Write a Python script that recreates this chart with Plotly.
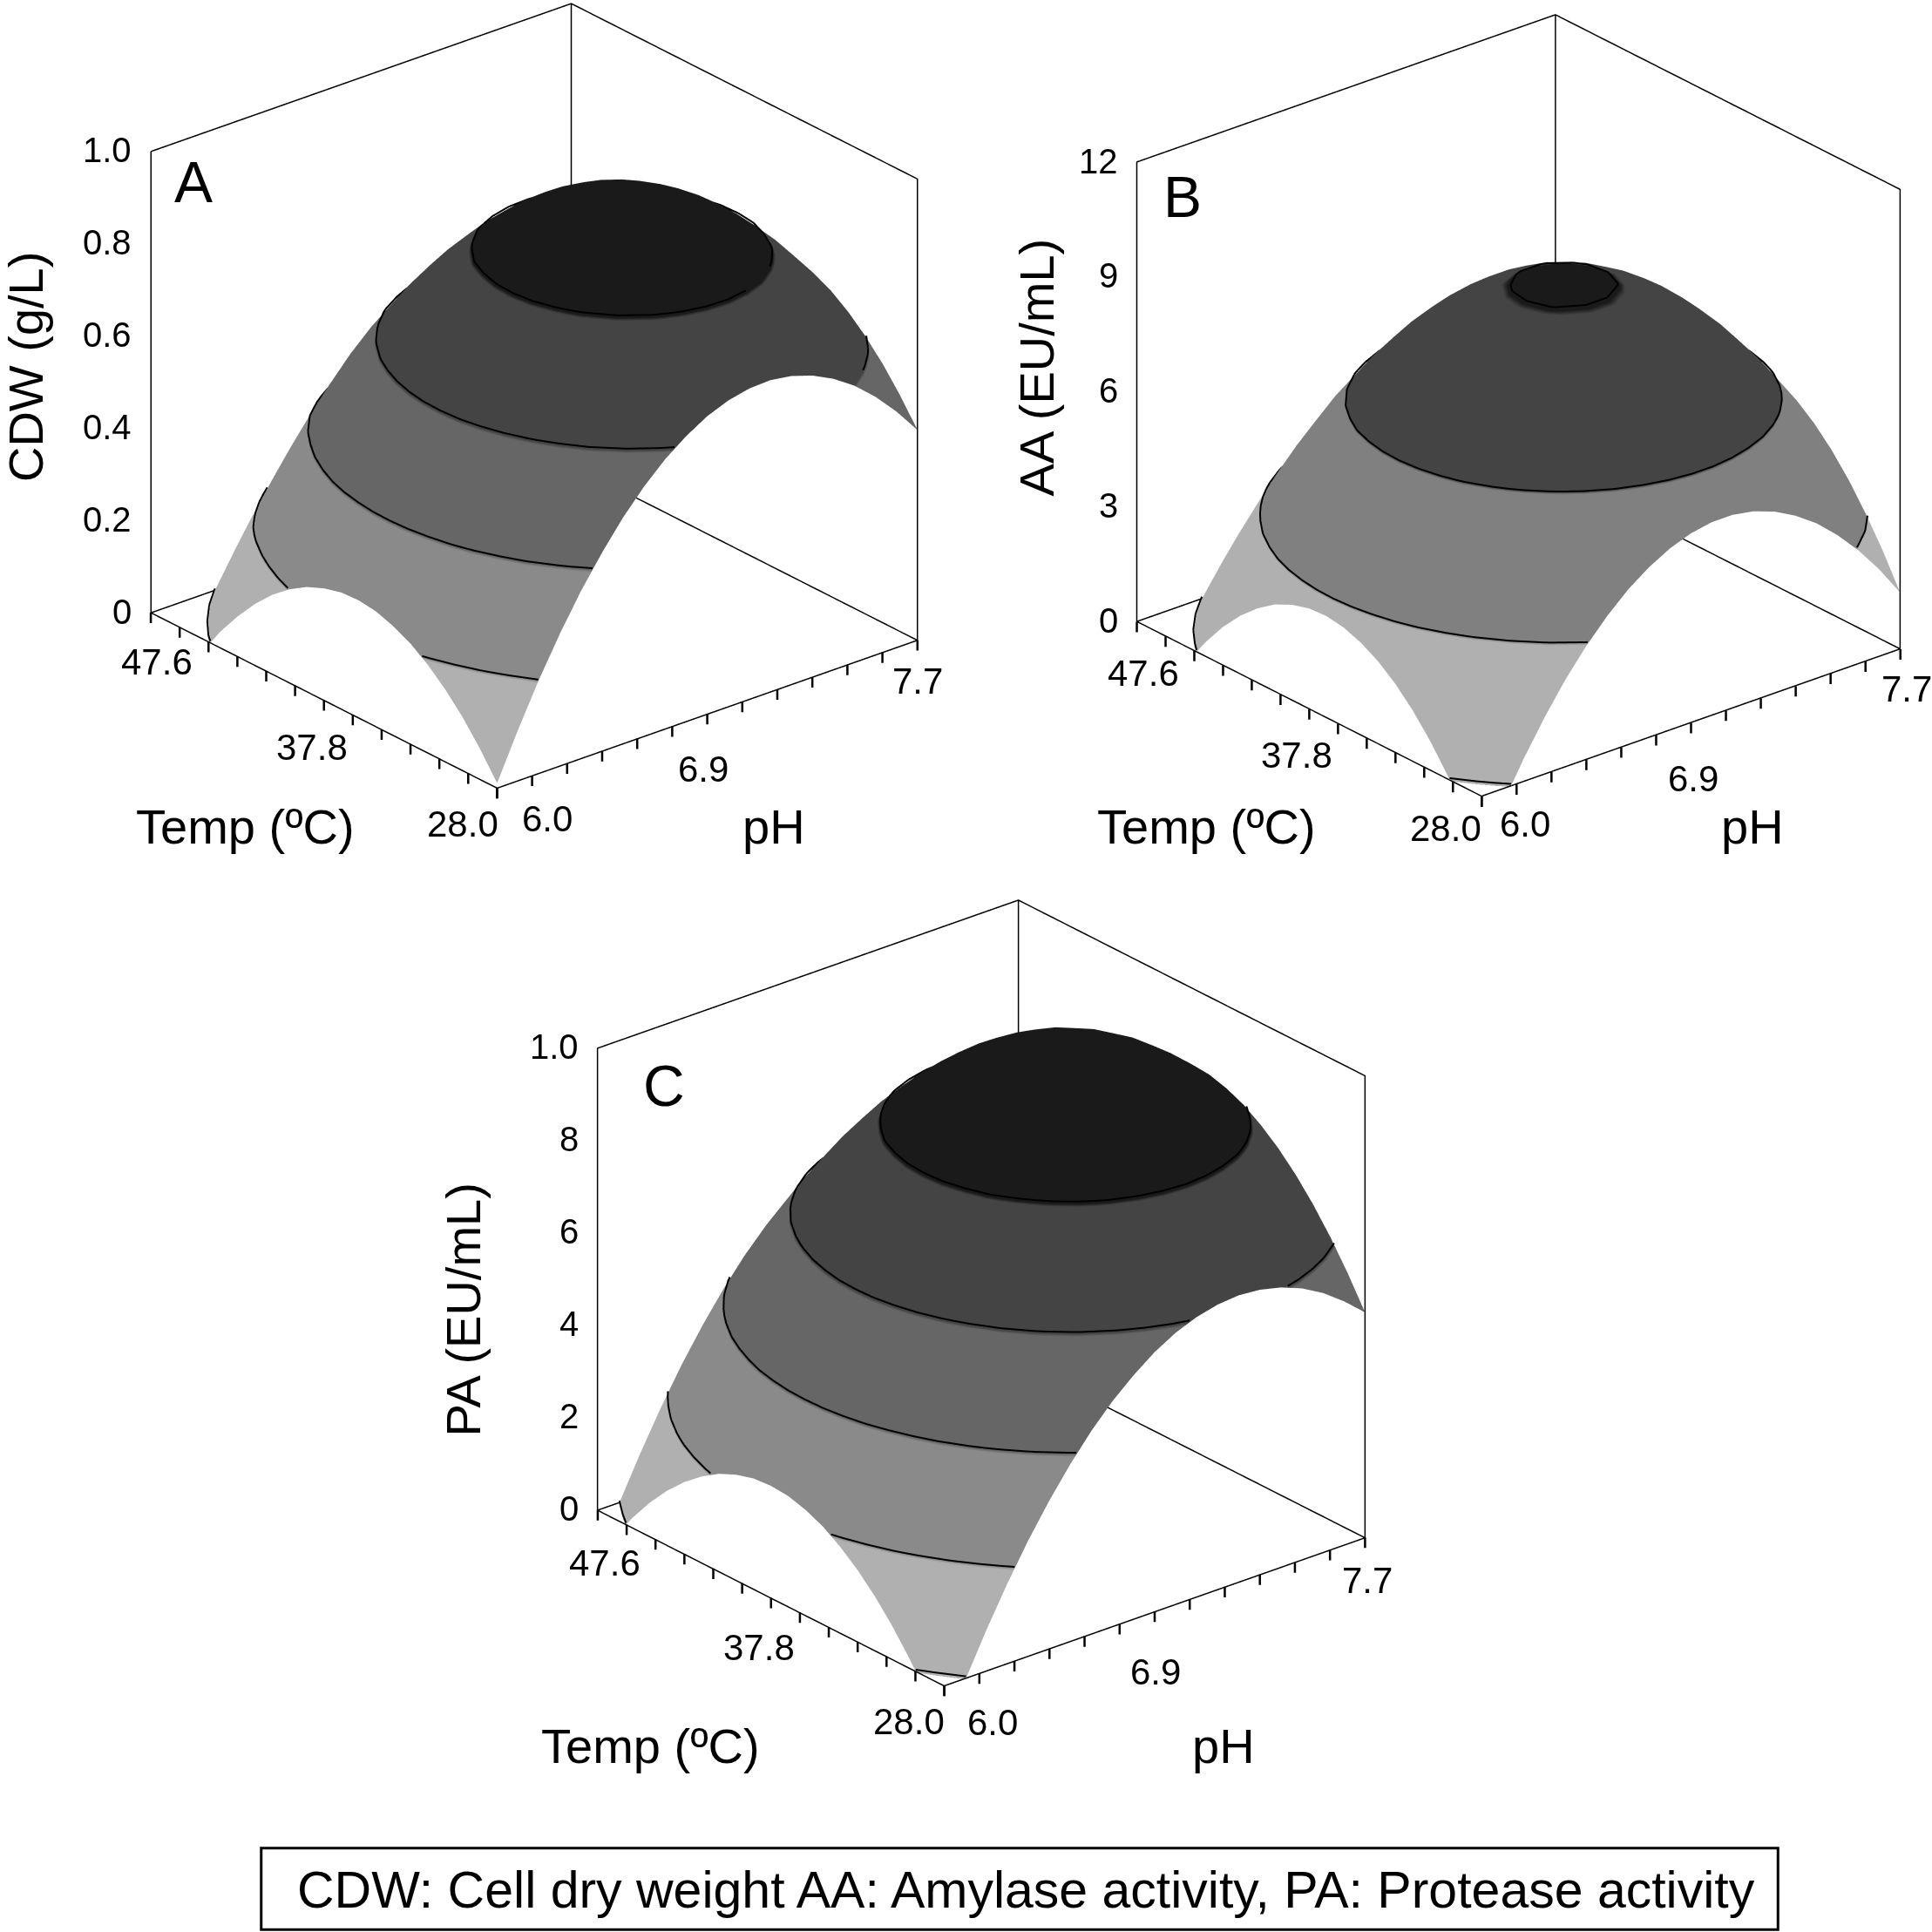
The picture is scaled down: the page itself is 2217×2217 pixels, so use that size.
import plotly.graph_objects as go

SIZE = 2217
K = SIZE / 1568

temp = [28.0,28.98,29.96,30.94,31.92,32.9,33.88,34.86,35.84,36.82,37.8,38.78,39.76,40.74,41.72,42.7,43.68,44.66,45.64,46.62,47.6]
ph = [6.0,6.085,6.17,6.255,6.34,6.425,6.51,6.595,6.68,6.765,6.85,6.935,7.02,7.105,7.19,7.275,7.36,7.445,7.53,7.615,7.7]

cdw = [
 [.011,.111,.204,.288,.364,.431,.491,.542,.585,.619,.646,.664,.674,.676,.669,.654,.631,.600,.560,.512,.456],
 [.067,.167,.260,.344,.420,.487,.547,.598,.641,.675,.702,.720,.730,.732,.725,.710,.687,.656,.616,.568,.512],
 [.116,.216,.309,.393,.469,.536,.596,.647,.690,.724,.751,.769,.779,.781,.774,.759,.736,.705,.665,.617,.561],
 [.157,.257,.350,.434,.510,.577,.637,.688,.731,.765,.792,.810,.820,.822,.815,.800,.777,.746,.706,.658,.602],
 [.191,.291,.384,.468,.544,.611,.671,.722,.765,.799,.826,.844,.854,.856,.849,.834,.811,.780,.740,.692,.636],
 [.218,.318,.411,.495,.571,.638,.698,.749,.792,.826,.853,.871,.881,.883,.876,.861,.838,.807,.767,.719,.663],
 [.237,.337,.430,.514,.590,.657,.717,.768,.811,.845,.872,.890,.900,.902,.895,.880,.857,.826,.786,.738,.682],
 [.250,.350,.443,.527,.603,.670,.730,.781,.824,.858,.885,.903,.913,.915,.908,.893,.870,.839,.799,.751,.695],
 [.255,.355,.448,.532,.608,.675,.735,.786,.829,.863,.890,.908,.918,.920,.913,.898,.875,.844,.804,.756,.700],
 [.253,.353,.446,.530,.606,.673,.733,.784,.827,.861,.888,.906,.916,.918,.911,.896,.873,.842,.802,.754,.698],
 [.243,.343,.436,.520,.596,.663,.723,.774,.817,.851,.878,.896,.906,.908,.901,.886,.863,.832,.792,.744,.688],
 [.227,.327,.420,.504,.580,.647,.707,.758,.801,.835,.862,.880,.890,.892,.885,.870,.847,.816,.776,.728,.672],
 [.203,.303,.396,.480,.556,.623,.683,.734,.777,.811,.838,.856,.866,.868,.861,.846,.823,.792,.752,.704,.648],
 [.172,.272,.365,.449,.525,.592,.652,.703,.746,.780,.807,.825,.835,.837,.830,.815,.792,.761,.721,.673,.617],
 [.133,.233,.326,.410,.486,.553,.613,.664,.707,.741,.768,.786,.796,.798,.791,.776,.753,.722,.682,.634,.578],
 [.087,.187,.280,.364,.440,.507,.567,.618,.661,.695,.722,.740,.750,.752,.745,.730,.707,.676,.636,.588,.532],
 [.035,.135,.228,.312,.388,.455,.515,.566,.609,.643,.670,.688,.698,.700,.693,.678,.655,.624,.584,.536,.480],
 [-.026,.074,.167,.251,.327,.394,.454,.505,.548,.582,.609,.627,.637,.639,.632,.617,.594,.563,.523,.475,.419],
 [-.103,-.003,.090,.174,.250,.317,.377,.428,.471,.505,.532,.550,.560,.562,.555,.540,.517,.486,.446,.398,.342],
 [-.188,-.088,.005,.089,.165,.232,.292,.343,.386,.420,.447,.465,.475,.477,.470,.455,.432,.401,.361,.313,.257],
 [-.280,-.180,-.087,-.003,.073,.140,.200,.251,.294,.328,.355,.373,.383,.385,.378,.363,.340,.309,.269,.221,.165],
]
aa = [
 [-1.50,-.41,.58,1.47,2.27,2.96,3.55,4.05,4.44,4.74,4.94,5.04,5.04,4.94,4.74,4.44,4.05,3.55,2.96,2.27,1.47],
 [-.64,.45,1.44,2.33,3.13,3.82,4.41,4.91,5.30,5.60,5.80,5.90,5.90,5.80,5.60,5.30,4.91,4.41,3.82,3.13,2.33],
 [.11,1.20,2.19,3.08,3.88,4.57,5.16,5.66,6.05,6.35,6.55,6.65,6.65,6.55,6.35,6.05,5.66,5.16,4.57,3.88,3.08],
 [.77,1.86,2.85,3.74,4.54,5.23,5.82,6.32,6.71,7.01,7.21,7.31,7.31,7.21,7.01,6.71,6.32,5.82,5.23,4.54,3.74],
 [1.33,2.42,3.41,4.30,5.10,5.79,6.38,6.88,7.27,7.57,7.77,7.87,7.87,7.77,7.57,7.27,6.88,6.38,5.79,5.10,4.30],
 [1.79,2.88,3.87,4.76,5.56,6.25,6.84,7.34,7.73,8.03,8.23,8.33,8.33,8.23,8.03,7.73,7.34,6.84,6.25,5.56,4.76],
 [2.15,3.24,4.23,5.12,5.92,6.61,7.20,7.70,8.09,8.39,8.59,8.69,8.69,8.59,8.39,8.09,7.70,7.20,6.61,5.92,5.12],
 [2.41,3.50,4.49,5.38,6.18,6.87,7.46,7.96,8.35,8.65,8.85,8.95,8.95,8.85,8.65,8.35,7.96,7.46,6.87,6.18,5.38],
 [2.58,3.67,4.66,5.55,6.35,7.04,7.63,8.13,8.52,8.82,9.02,9.12,9.12,9.02,8.82,8.52,8.13,7.63,7.04,6.35,5.55],
 [2.65,3.74,4.73,5.62,6.42,7.11,7.70,8.20,8.59,8.89,9.09,9.19,9.19,9.09,8.89,8.59,8.20,7.70,7.11,6.42,5.62],
 [2.62,3.71,4.70,5.59,6.39,7.08,7.67,8.17,8.56,8.86,9.06,9.16,9.16,9.06,8.86,8.56,8.17,7.67,7.08,6.39,5.59],
 [2.49,3.58,4.57,5.46,6.26,6.95,7.54,8.04,8.43,8.73,8.93,9.03,9.03,8.93,8.73,8.43,8.04,7.54,6.95,6.26,5.46],
 [2.27,3.36,4.35,5.24,6.04,6.73,7.32,7.82,8.21,8.51,8.71,8.81,8.81,8.71,8.51,8.21,7.82,7.32,6.73,6.04,5.24],
 [1.94,3.03,4.02,4.91,5.71,6.40,6.99,7.49,7.88,8.18,8.38,8.48,8.48,8.38,8.18,7.88,7.49,6.99,6.40,5.71,4.91],
 [1.52,2.61,3.60,4.49,5.29,5.98,6.57,7.07,7.46,7.76,7.96,8.06,8.06,7.96,7.76,7.46,7.07,6.57,5.98,5.29,4.49],
 [1.00,2.09,3.08,3.97,4.77,5.46,6.05,6.55,6.94,7.24,7.44,7.54,7.54,7.44,7.24,6.94,6.55,6.05,5.46,4.77,3.97],
 [.38,1.47,2.46,3.35,4.15,4.84,5.43,5.93,6.32,6.62,6.82,6.92,6.92,6.82,6.62,6.32,5.93,5.43,4.84,4.15,3.35],
 [-.33,.76,1.75,2.64,3.44,4.13,4.72,5.22,5.61,5.91,6.11,6.21,6.21,6.11,5.91,5.61,5.22,4.72,4.13,3.44,2.64],
 [-1.14,-.05,.94,1.83,2.63,3.32,3.91,4.41,4.80,5.10,5.30,5.40,5.40,5.30,5.10,4.80,4.41,3.91,3.32,2.63,1.83],
 [-2.06,-.97,.02,.91,1.71,2.40,2.99,3.49,3.88,4.18,4.38,4.48,4.48,4.38,4.18,3.88,3.49,2.99,2.40,1.71,.91],
 [-3.06,-1.97,-.98,-.09,.71,1.40,1.99,2.49,2.88,3.18,3.38,3.48,3.48,3.38,3.18,2.88,2.49,1.99,1.40,.71,-.09],
]
pa = [
 [-1.04,-.04,.88,1.73,2.51,3.21,3.84,4.40,4.88,5.28,5.62,5.88,6.06,6.17,6.21,6.17,6.06,5.88,5.62,5.28,4.88],
 [-.38,.62,1.54,2.39,3.17,3.87,4.50,5.06,5.54,5.94,6.28,6.54,6.72,6.83,6.87,6.83,6.72,6.54,6.28,5.94,5.54],
 [.21,1.21,2.13,2.98,3.76,4.46,5.09,5.65,6.13,6.53,6.87,7.13,7.31,7.42,7.46,7.42,7.31,7.13,6.87,6.53,6.13],
 [.73,1.73,2.65,3.50,4.28,4.98,5.61,6.17,6.65,7.05,7.39,7.65,7.83,7.94,7.98,7.94,7.83,7.65,7.39,7.05,6.65],
 [1.18,2.18,3.10,3.95,4.73,5.43,6.06,6.62,7.10,7.50,7.84,8.10,8.28,8.39,8.43,8.39,8.28,8.10,7.84,7.50,7.10],
 [1.56,2.56,3.48,4.33,5.11,5.81,6.44,7.00,7.48,7.88,8.22,8.48,8.66,8.77,8.81,8.77,8.66,8.48,8.22,7.88,7.48],
 [1.87,2.87,3.79,4.64,5.42,6.12,6.75,7.31,7.79,8.19,8.53,8.79,8.97,9.08,9.12,9.08,8.97,8.79,8.53,8.19,7.79],
 [2.12,3.12,4.04,4.89,5.67,6.37,7.00,7.56,8.04,8.44,8.78,9.04,9.22,9.33,9.37,9.33,9.22,9.04,8.78,8.44,8.04],
 [2.29,3.29,4.21,5.06,5.84,6.54,7.17,7.73,8.21,8.61,8.95,9.21,9.39,9.50,9.54,9.50,9.39,9.21,8.95,8.61,8.21],
 [2.40,3.40,4.32,5.17,5.95,6.65,7.28,7.84,8.32,8.72,9.06,9.32,9.50,9.61,9.65,9.61,9.50,9.32,9.06,8.72,8.32],
 [2.43,3.43,4.35,5.20,5.98,6.68,7.31,7.87,8.35,8.75,9.09,9.35,9.53,9.64,9.68,9.64,9.53,9.35,9.09,8.75,8.35],
 [2.40,3.40,4.32,5.17,5.95,6.65,7.28,7.84,8.32,8.72,9.06,9.32,9.50,9.61,9.65,9.61,9.50,9.32,9.06,8.72,8.32],
 [2.29,3.29,4.21,5.06,5.84,6.54,7.17,7.73,8.21,8.61,8.95,9.21,9.39,9.50,9.54,9.50,9.39,9.21,8.95,8.61,8.21],
 [2.12,3.12,4.04,4.89,5.67,6.37,7.00,7.56,8.04,8.44,8.78,9.04,9.22,9.33,9.37,9.33,9.22,9.04,8.78,8.44,8.04],
 [1.87,2.87,3.79,4.64,5.42,6.12,6.75,7.31,7.79,8.19,8.53,8.79,8.97,9.08,9.12,9.08,8.97,8.79,8.53,8.19,7.79],
 [1.56,2.56,3.48,4.33,5.11,5.81,6.44,7.00,7.48,7.88,8.22,8.48,8.66,8.77,8.81,8.77,8.66,8.48,8.22,7.88,7.48],
 [1.18,2.18,3.10,3.95,4.73,5.43,6.06,6.62,7.10,7.50,7.84,8.10,8.28,8.39,8.43,8.39,8.28,8.10,7.84,7.50,7.10],
 [.73,1.73,2.65,3.50,4.28,4.98,5.61,6.17,6.65,7.05,7.39,7.65,7.83,7.94,7.98,7.94,7.83,7.65,7.39,7.05,6.65],
 [.21,1.21,2.13,2.98,3.76,4.46,5.09,5.65,6.13,6.53,6.87,7.13,7.31,7.42,7.46,7.42,7.31,7.13,6.87,6.53,6.13],
 [-.38,.62,1.54,2.39,3.17,3.87,4.50,5.06,5.54,5.94,6.28,6.54,6.72,6.83,6.87,6.83,6.72,6.54,6.28,5.94,5.54],
 [-1.04,-.04,.88,1.73,2.51,3.21,3.84,4.40,4.88,5.28,5.62,5.88,6.06,6.17,6.21,6.17,6.06,5.88,5.62,5.28,4.88],
]

temp_ticks = [28.0+i*19.6/12 for i in range(13)]
ph_ticks = [6.0+i*1.7/12 for i in range(13)]
temp_labels = {28.0:"28.0", 37.8:"37.8", 47.6:"47.6"}
ph_labels = {6.0:"6.0", 6.85:"6.9", 7.7:"7.7"}

GRAYS = ["#b0b0b0", "#8a8a8a", "#666666", "#444444", "#1a1a1a"]

panels = [
 dict(name="scene", z=cdw, zmax=1.0, levels=[.2,.4,.6,.8], colors=GRAYS,
      zticks=[0,.2,.4,.6,.8,1.0], ztext=["0","0.2","0.4","0.6","0.8","1.0"],
      cx=433.5, cy=321, hw=433, hh=321, scale=1.379,
      tshift=[(-28,29),(-10,38.5),(5,40)], pshift=[(41,25),(-3.5,45),(0,33)]),
 dict(name="scene2", z=aa, zmax=12, levels=[3,6,9], colors=[GRAYS[0],"#808080","#444444","#1a1a1a"],
      zticks=[0,3,6,9,12], ztext=["0","3","6","9","12"],
      cx=1232.5, cy=329, hw=335, hh=329, scale=1.341,
      tshift=[(-29,26),(-10,37),(5,42)], pshift=[(35,22),(2,45),(5,32)]),
 dict(name="scene3", z=pa, zmax=10, levels=[2,4,6,8], colors=GRAYS,
      zticks=[0,2,4,6,8,10], ztext=["0","2","4","6","8","1.0"],
      cx=796.5, cy=1049, hw=350, hh=325, scale=1.3645,
      tshift=[(-29,29),(-10,40),(6,43)], pshift=[(39,30),(1,49),(2,35)]),
]

def band_scale(levels, zmax, colors):
    edges = [0] + [l/zmax for l in levels] + [1]
    out = []
    for i, c in enumerate(colors):
        out.append([edges[i], c]); out.append([edges[i+1], c])
    return out

def contour_lines(z, level):
    xs, ys, zs = [], [], []
    for i in range(len(temp)-1):
        for j in range(len(ph)-1):
            a = (ph[j], temp[i], z[i][j]); b = (ph[j+1], temp[i], z[i][j+1])
            c = (ph[j+1], temp[i+1], z[i+1][j+1]); d = (ph[j], temp[i+1], z[i+1][j])
            for tri in ((a,b,c),(a,c,d)):
                pts = []
                for u, v in ((tri[0],tri[1]),(tri[1],tri[2]),(tri[2],tri[0])):
                    if (u[2]-level)*(v[2]-level) < 0:
                        f = (level-u[2])/(v[2]-u[2])
                        pts.append((u[0]+f*(v[0]-u[0]), u[1]+f*(v[1]-u[1])))
                if len(pts) == 2:
                    xs += [pts[0][0], pts[1][0], None]
                    ys += [pts[0][1], pts[1][1], None]
                    zs += [level, level, None]
    return xs, ys, zs

fig = go.Figure()
layout = dict(width=SIZE, height=SIZE, margin=dict(l=0,r=0,t=0,b=0), paper_bgcolor="white",
              showlegend=False, font=dict(family="Liberation Sans", color="black"))

xa, xb = ph[0], ph[-1]
ya, yb = temp[0], temp[-1]
for p in panels:
    zt = p["zmax"]
    fig.add_trace(go.Surface(x=ph, y=temp, z=p["z"], scene=p["name"], showscale=False,
        colorscale=band_scale(p["levels"], zt, p["colors"]), cmin=0, cmax=zt, hoverinfo="skip",
        lighting=dict(ambient=1, diffuse=0, specular=0, roughness=1, fresnel=0)))
    lift = 0.004*zt
    for lv in [0]+p["levels"]:
        lx, ly, lz = contour_lines(p["z"], lv)
        lz = [None if v is None else v+lift for v in lz]
        fig.add_trace(go.Scatter3d(x=lx, y=ly, z=lz, mode="lines", scene=p["name"], hoverinfo="skip",
                                   line=dict(color="black", width=4)))
    fx = [xa,xb,xb,xa,xa,None, xa,xa,xa,xb,xb,xb,None, xb,xb]
    fy = [ya,ya,yb,yb,ya,None, yb,yb,yb,yb,ya,ya,None, yb,yb]
    fz = [0,0,0,0,0,None, 0,zt,zt,zt,zt,0,None, 0,zt]
    fig.add_trace(go.Scatter3d(x=fx, y=fy, z=fz, mode="lines", scene=p["name"], hoverinfo="skip",
                               line=dict(color="black", width=3)))

    ann = []
    tick_font = dict(size=42, family="Liberation Sans", color="black")
    z_font = dict(size=40, family="Liberation Sans", color="black")
    stub = dict(text=" ", showarrow=True, arrowhead=0, arrowwidth=2.5, arrowcolor="black", ax=0, ay=14,
                standoff=0, font=dict(size=1))
    for t in temp_ticks:
        ann.append(dict(x=xa, y=t, z=0, **stub))
    for v in ph_ticks:
        ann.append(dict(x=v, y=ya, z=0, **stub))
    for (val, text), (dx, dy) in zip(temp_labels.items(), p["tshift"]):
        ann.append(dict(x=xa, y=val, z=0, text=text, showarrow=False, xshift=dx*K, yshift=-dy*K, font=tick_font))
    for (val, text), (dx, dy) in zip(ph_labels.items(), p["pshift"]):
        ann.append(dict(x=val, y=ya, z=0, text=text, showarrow=False, xshift=dx*K, yshift=-dy*K, font=tick_font))
    for val, text in zip(p["zticks"], p["ztext"]):
        ann.append(dict(x=xa, y=yb, z=val, text=text, showarrow=False, xanchor="right", xshift=-14*K, yshift=1*K, font=z_font))

    plain = dict(showgrid=False, zeroline=False, showbackground=False, showspikes=False, showline=False,
                 ticks="", showticklabels=False, title=dict(text=""))
    a = p["scale"]
    layout[p["name"]] = dict(
        domain=dict(x=[(p["cx"]-p["hw"])/1568, (p["cx"]+p["hw"])/1568],
                    y=[1-(p["cy"]+p["hh"])/1568, 1-(p["cy"]-p["hh"])/1568]),
        aspectmode="manual", aspectratio=dict(x=a*1.005, y=a*.993, z=0.9375*a),
        camera=dict(projection=dict(type="orthographic"), up=dict(x=0,y=0,z=1), center=dict(x=0,y=0,z=0),
                    eye=dict(x=-.580*1.7, y=-.696*1.7, z=.422*1.7)),
        xaxis=dict(range=[xa-.002,xb+.002], **plain),
        yaxis=dict(range=[ya-.02,yb+.02], **plain),
        zaxis=dict(range=[-.002*zt,zt*1.003], **plain),
        annotations=ann,
    )

notes = [
 ("A",157,148,66,0),("B",960,160,66,0),("C",539,881,66,0),
 ("Temp (ºC)",199,671,56,0),("pH",628,671,56,0),
 ("Temp (ºC)",979,671,56,0),("pH",1422,671,56,0),
 ("Temp (ºC)",528,1417,56,0),("pH",993,1417,56,0),
 ("CDW (g/L)",21,298,56,-90),("AA (EU/mL)",841,298,56,-90),("PA (EU/mL)",376,1063,56,-90),
 ("CDW: Cell dry weight AA: Amylase activity, PA: Protease activity",833,1534,59,0),
]
layout["annotations"] = [dict(text=t, x=x/1568, y=1-y/1568, xref="paper", yref="paper", showarrow=False,
                              xanchor="center", yanchor="middle", textangle=a,
                              font=dict(size=s, family="Liberation Sans", color="black"))
                         for t,x,y,s,a in notes]
layout["shapes"] = [dict(type="rect", xref="paper", yref="paper", x0=212/1568, x1=1443/1568,
                         y0=1-1566/1568, y1=1-1500/1568, line=dict(color="black", width=3))]
fig.update_layout(**layout)
fig.write_html("out.html", config=dict(displayModeBar=False), post_script="document.body.style.margin='0';")
